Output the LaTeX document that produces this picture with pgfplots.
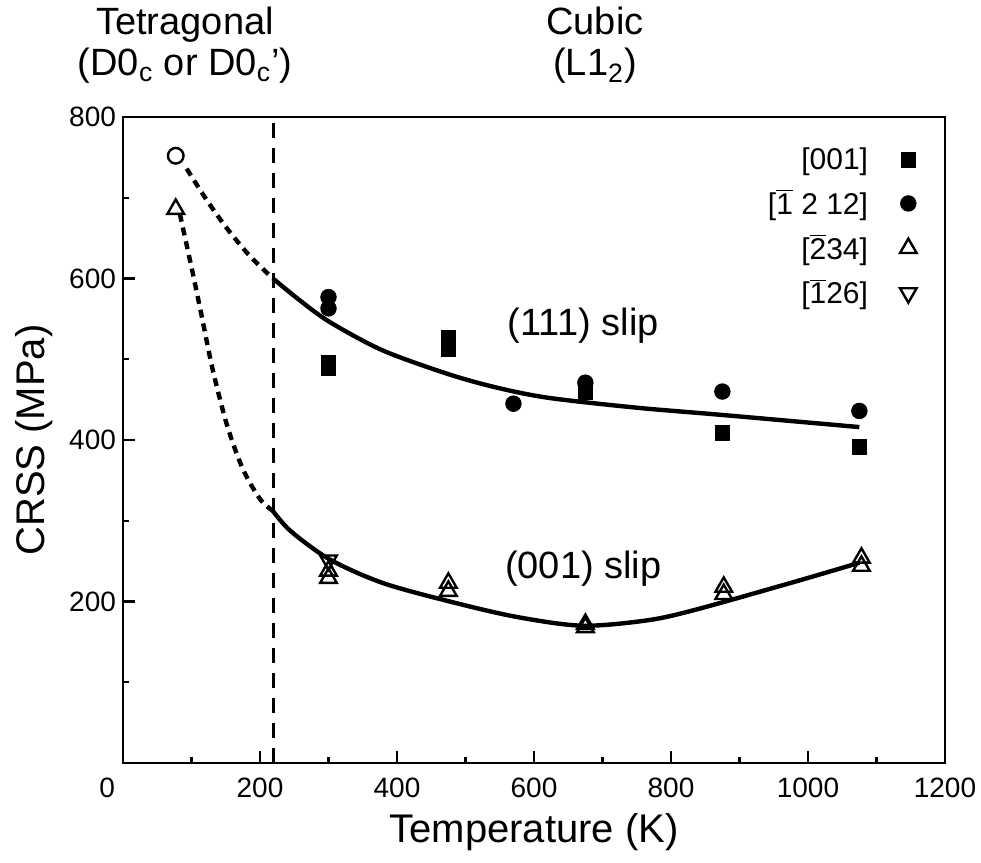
\documentclass[border=0pt]{standalone}
\usepackage{pgfplots}
\pgfplotsset{compat=1.18}
\usepackage{fontspec}
\setmainfont{Liberation Sans}
\begin{document}
\begin{tikzpicture}
\begin{axis}[
  at={(0,0)}, anchor=south west,
  scale only axis, width=411pt, height=323pt,
  xmin=0, xmax=1200, ymin=0, ymax=800,
  xtick={0,200,...,1200},
  xticklabels={\llap{0\hspace{4pt}},200,400,600,800,1000,1200},
  minor xtick={100,300,...,1100},
  ytick={200,400,600,800},
  minor ytick={100,300,500,700},
  tick align=inside, xtick pos=bottom, ytick pos=left,
  major tick length=6pt, minor tick length=3pt,
  axis line style={line width=1.4pt},
  every tick/.style={line width=1.2pt, black},
  tick label style={font=\fontsize{14}{16}\selectfont},
  /pgf/number format/assume math mode=true,
  /pgf/number format/1000 sep={},
  xticklabel style={yshift=-4pt},
  xlabel={Temperature (K)},
  ylabel={CRSS (MPa)},
  label style={font=\fontsize{20}{24}\selectfont},
  xlabel style={at={(axis description cs:0.5,-0.1223)}, anchor=base},
  ylabel style={at={(axis description cs:-0.108,0.5)}, anchor=center},
  clip=false,
  legend plot pos=right,
  legend cell align=right,
  legend style={draw=none, fill=none, at={(axis description cs:0.966,0.959)}, anchor=north east, font=\fontsize{15}{18}\selectfont, row sep=4.5pt, column sep=14pt, inner sep=0pt},
]
% phase boundary
\addplot[forget plot, black, line width=1.4pt, dash pattern=on 7.5pt off 5pt] coordinates {(220,0)(220,800)};
% (111) slip curve
\addplot[forget plot, black, line width=2.2pt, dash pattern=on 4pt off 3pt, smooth] coordinates {
 (93,736)(120,700)(150,664)(185,628)(219,600)};
\addplot[forget plot, black, line width=2.2pt, smooth] coordinates {
 (219,600)(258,573)(302,546)(379,511)(477,481)(550,464)(623,452)(750,440)(875,431)(1075,416)};
% (001) slip curve
\addplot[forget plot, black, line width=2.2pt, dash pattern=on 4pt off 3pt, smooth] coordinates {
 (83,680)(101,610)(115,553)(131,487)(152,418)(175,364)(200,327)(219,312)};
\addplot[forget plot, black, line width=2.2pt, smooth] coordinates {
 (219,312)(245,287)(302,252)(379,223)(477,200)(574,181)(671,170)(768,177)(841,191)(987,226)(1075,248)};
% data
\addplot[only marks, black, mark=square*, mark size=3.7pt] coordinates {
 (300,489)(300,495)(475,513)(475,527)(675,459)(875,409)(1075,391)};
\addlegendentry{[001]}
\addplot[only marks, black, mark=*, mark size=3.9pt] coordinates {
 (300,563)(300,577)(570,445)(675,471)(875,460)(1075,436)};
\addlegendentry{[$\overline{\mbox{1}}$ 2 12]}
\addplot[only marks, black, mark=triangle, mark size=4.8pt, mark options={line width=1.2pt}] coordinates {
 (300,229)(300,238)(475,213)(475,223)(675,168)(675,172)(877,209)(877,218)(1078,244)(1078,254)};
\addlegendentry{[$\overline{\mbox{2}}$34]}
\addplot[only marks, black, mark=triangle, mark size=4.8pt, mark options={rotate=180, line width=1.2pt}] coordinates {
 (300,251)};
\addlegendentry{[$\overline{\mbox{1}}$26]}
% 77 K tetragonal points
\addplot[forget plot, only marks, black, mark=o, mark size=3.9pt, mark options={line width=1.2pt}] coordinates {(77,752)};
\addplot[forget plot, only marks, black, mark=triangle, mark size=4.8pt, mark options={line width=1.2pt}] coordinates {(77,686)};
% labels
\node[font=\fontsize{19}{22}\selectfont] at (axis cs:672,542) {(111) slip};
\node[font=\fontsize{19}{22}\selectfont] at (axis cs:672,241) {(001) slip};
\end{axis}
\node[anchor=base, font=\fontsize{19}{22}\selectfont] at (31pt,364pt) {Tetragonal};
\node[anchor=base, font=\fontsize{19}{22}\selectfont] at (31pt,343.5pt) {(D0\textsubscript{c} or D0\textsubscript{c}’)};
\node[anchor=base, font=\fontsize{19}{22}\selectfont] at (236pt,364pt) {Cubic};
\node[anchor=base, font=\fontsize{19}{22}\selectfont] at (236pt,343.5pt) {(L1\textsubscript{2})};
\pgfresetboundingbox
\useasboundingbox (-61.5pt,-50pt) rectangle (429pt,381.5pt);
\end{tikzpicture}
\end{document}
